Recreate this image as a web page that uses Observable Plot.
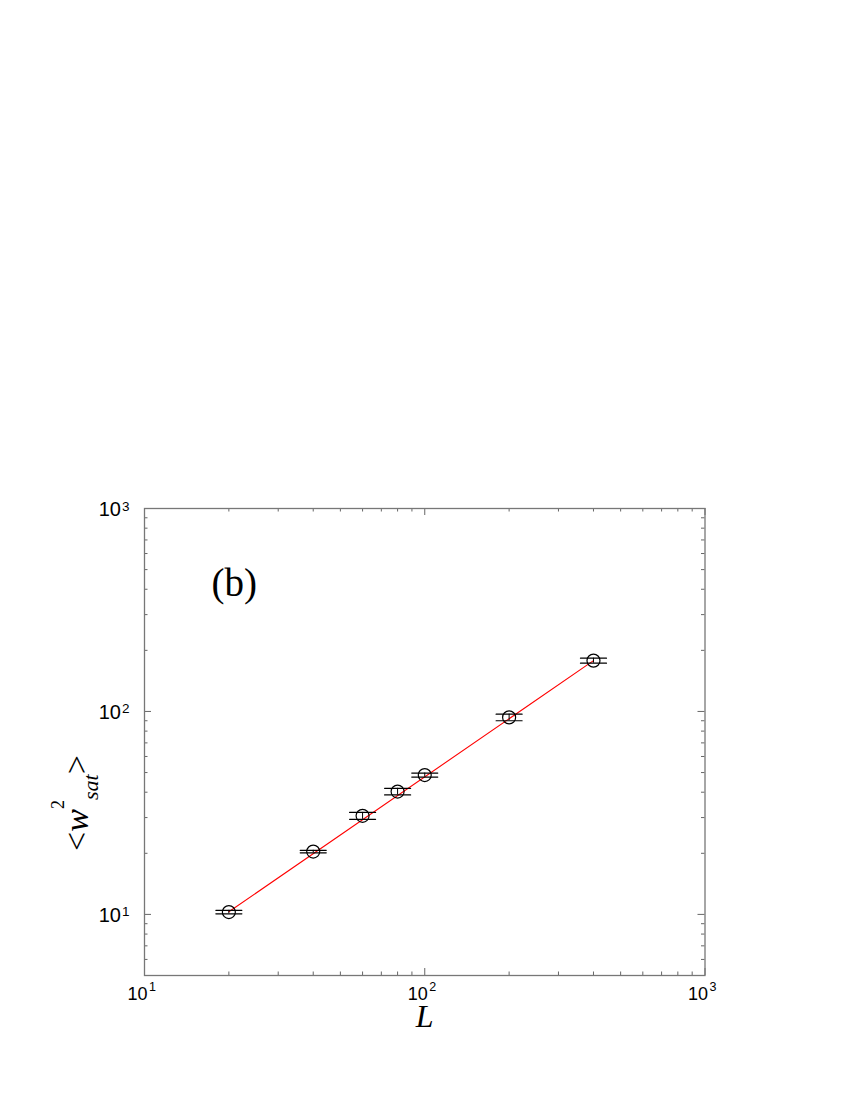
<!DOCTYPE html>
<html><head><meta charset="utf-8">
<script src="https://cdn.jsdelivr.net/npm/d3@7"></script>
<script src="https://cdn.jsdelivr.net/npm/@observablehq/plot@0.6"></script>
<style>html,body{margin:0;padding:0;background:#fff;overflow:hidden}</style>
</head><body><div id="chart"></div>
<script>
// data
const sizes = [20, 40, 60, 80, 100, 200, 400];
const w2sat = [10.27, 20.4, 30.6, 40.3, 48.6, 93.5, 178];
const w2err = [0.2, 0.3, 1.2, 1.5, 1.1, 3.5, 5];
const fitL = [20, 400];
const fitW = [10.3, 178];
const xMajor = [10, 100, 1000];
const xMinor = [20, 30, 40, 50, 60, 70, 80, 90, 200, 300, 400, 500, 600, 700, 800, 900];
const yMajor = [10, 100, 1000];
const yMinor = [5, 6, 7, 8, 9, 20, 30, 40, 50, 60, 70, 80, 90, 200, 300, 400, 500, 600, 700, 800, 900];
const xExp = ["1", "2", "3"];
const yExp = ["1", "2", "3"];
const tickBase = "10";

const pts = sizes.map((L, i) => ({L, w: w2sat[i], e: w2err[i]}));
const fit = fitL.map((L, i) => ({L, w: fitW[i]}));

const W = 850, H = 1100, mL = 144, mR = 145.5, mT = 508, mB = 125;
const iW = W - mL - mR, iH = H - mT - mB;
const sans = "'Liberation Sans', Arial, Helvetica, sans-serif";
const serif = "'Liberation Serif', 'Times New Roman', serif";
const tc = "#666";
const MAJ = 7, MIN = 3.5;
const capShape = {draw(ctx, l) { ctx.moveTo(-l / 2, 0); ctx.lineTo(l / 2, 0); }};

const chart = Plot.plot({
  width: W, height: H,
  marginLeft: mL, marginRight: mR, marginTop: mT, marginBottom: mB,
  x: {type: "log", domain: [10, 1000], axis: null},
  y: {type: "log", domain: [5, 1000], axis: null},
  marks: [
    // ticks inside, all four sides
    Plot.tickX(xMajor, {x: d => d, insetTop: iH - MAJ, stroke: tc}),
    Plot.tickX(xMajor, {x: d => d, insetBottom: iH - MAJ, stroke: tc}),
    Plot.tickX(xMinor, {x: d => d, insetTop: iH - MIN, stroke: tc}),
    Plot.tickX(xMinor, {x: d => d, insetBottom: iH - MIN, stroke: tc}),
    Plot.tickY(yMajor, {y: d => d, insetRight: iW - MAJ, stroke: tc}),
    Plot.tickY(yMajor, {y: d => d, insetLeft: iW - MAJ, stroke: tc}),
    Plot.tickY(yMinor, {y: d => d, insetRight: iW - MIN, stroke: tc}),
    Plot.tickY(yMinor, {y: d => d, insetLeft: iW - MIN, stroke: tc}),
    Plot.frame({stroke: "#777", strokeWidth: 1.3}),
    // tick labels
    Plot.text(xMajor, {x: d => d, text: () => tickBase, frameAnchor: "bottom", textAnchor: "end", lineAnchor: "bottom", dx: 3, dy: 24, fontSize: 18, fontFamily: sans, fill: "black"}),
    Plot.text(xMajor, {x: d => d, text: (d, i) => xExp[i], frameAnchor: "bottom", textAnchor: "start", lineAnchor: "bottom", dx: 4.5, dy: 15, fontSize: 12.5, fontFamily: sans, fill: "black"}),
    Plot.text(yMajor, {y: d => d, text: () => tickBase, frameAnchor: "left", textAnchor: "end", lineAnchor: "middle", dx: -23.5, dy: 1, fontSize: 20, fontFamily: sans, fill: "black"}),
    Plot.text(yMajor, {y: d => d, text: (d, i) => yExp[i], frameAnchor: "left", textAnchor: "start", lineAnchor: "bottom", dx: -22.5, dy: 2, fontSize: 13.5, fontFamily: sans, fill: "black"}),
    // axis label L and panel tag
    Plot.text(["L"], {frameAnchor: "bottom", lineAnchor: "bottom", dy: 51, fontSize: 32, fontStyle: "italic", fontFamily: serif, fill: "black"}),
    Plot.text(["(b)"], {frameAnchor: "top-left", textAnchor: "start", lineAnchor: "bottom", dx: 67, dy: 87, fontSize: 39, fontFamily: serif, fill: "black"}),
    // fit line
    Plot.line(fit, {x: "L", y: "w", stroke: "red", strokeWidth: 1.1}),
    // error bars
    Plot.ruleX(pts, {x: "L", y1: d => d.w - d.e, y2: d => d.w + d.e, stroke: "black"}),
    Plot.vector(pts, {x: "L", y: d => d.w + d.e, length: 26, anchor: "start", shape: capShape, stroke: "black", strokeWidth: 1.2}),
    Plot.vector(pts, {x: "L", y: d => d.w - d.e, length: 26, anchor: "start", shape: capShape, stroke: "black", strokeWidth: 1.2}),
    // points
    Plot.dot(pts, {x: "L", y: "w", r: 6.5, stroke: "black", fill: "none", strokeWidth: 1.2})
  ]
});
document.getElementById("chart").appendChild(chart);

// y axis title with super/subscripts
const t = d3.select(chart).append("text")
  .attr("transform", "translate(88,803) rotate(-90)")
  .attr("font-family", serif).attr("font-size", 34).attr("fill", "black");
t.append("tspan").text("<");
t.append("tspan").attr("font-style", "italic").text("w");
t.append("tspan").attr("font-size", 18).attr("dy", -24).text("2");
t.append("tspan").attr("font-style", "italic").attr("font-size", 22).attr("dy", 34).text("sat");
t.append("tspan").attr("dy", -10).text(">");
</script>
</body></html>
